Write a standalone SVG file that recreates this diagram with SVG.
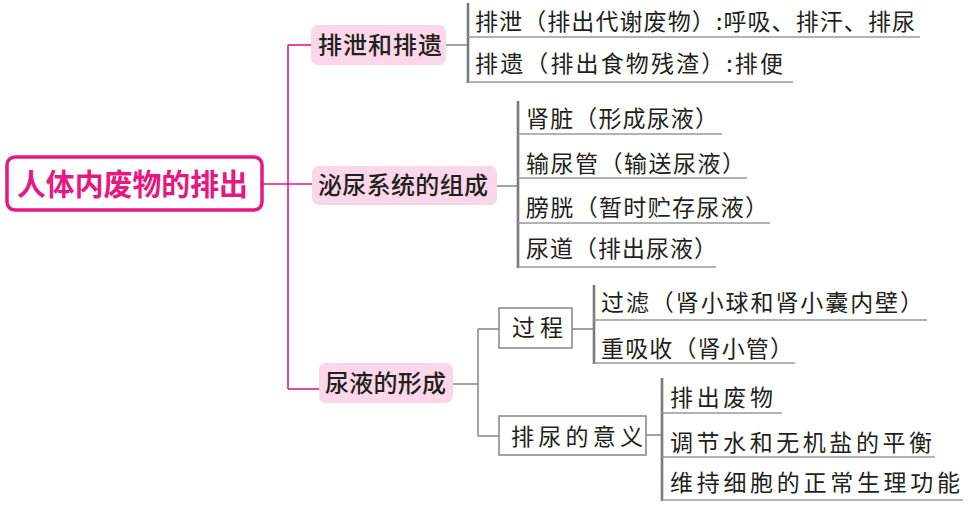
<svg xmlns="http://www.w3.org/2000/svg" width="971" height="510" viewBox="0 0 971 510">
<style>
  .pk { stroke: #e5197f; stroke-width: 1.6; fill: none; }
  .gl { stroke: #8c8c8c; stroke-width: 1.6; fill: none; }
  .br { stroke: #7a7a7a; stroke-width: 2.6; fill: none; }
  .ul { stroke: #9a9a9a; stroke-width: 1.6; fill: none; }
  .l1box { fill: #fad7e9; stroke: none; }
  .gbox { fill: #ffffff; stroke: #8c8c8c; stroke-width: 1.6; }
  .root { fill: #ffffff; stroke: #e5197f; stroke-width: 3.5; }
  .rt { font-family: "Noto Sans CJK SC", sans-serif; font-size: 30px; font-weight: 700; fill: #e5197f; }
  .l1 { font-family: "Noto Sans CJK SC", sans-serif; font-size: 24px; font-weight: 500; fill: #231f20; }
  .it { font-family: "Noto Sans CJK SC", sans-serif; font-size: 23px; font-weight: 400; fill: #231f20; }
</style>

<g id="connectors">
  <line class="pk" x1="263" y1="184" x2="312" y2="184"/>
  <line class="pk" x1="288" y1="45" x2="288" y2="389"/>
  <line class="pk" x1="288" y1="45" x2="311" y2="45"/>
  <line class="pk" x1="288" y1="389" x2="319" y2="389"/>
  <line class="gl" x1="446" y1="45" x2="468" y2="45"/>
  <line class="gl" x1="497" y1="186" x2="518" y2="186"/>
  <line class="gl" x1="453" y1="384" x2="478" y2="384"/>
  <line class="gl" x1="478" y1="329" x2="478" y2="436"/>
  <line class="gl" x1="478" y1="329" x2="499" y2="329"/>
  <line class="gl" x1="478" y1="436" x2="499" y2="436"/>
  <line class="gl" x1="572" y1="329" x2="594" y2="329"/>
  <line class="gl" x1="646" y1="435" x2="662" y2="435"/>
  <line class="br" x1="468" y1="3" x2="468" y2="83"/>
  <line class="br" x1="518" y1="101" x2="518" y2="268"/>
  <line class="br" x1="594" y1="285" x2="594" y2="364"/>
  <line class="br" x1="662" y1="378" x2="662" y2="501"/>
  <line class="ul" x1="468" y1="37" x2="920" y2="37"/>
  <line class="ul" x1="468" y1="82" x2="793" y2="82"/>
  <line class="ul" x1="518" y1="134" x2="722" y2="134"/>
  <line class="ul" x1="518" y1="178" x2="747" y2="178"/>
  <line class="ul" x1="518" y1="223" x2="770" y2="223"/>
  <line class="ul" x1="518" y1="267" x2="716" y2="267"/>
  <line class="ul" x1="594" y1="320" x2="927" y2="320"/>
  <line class="ul" x1="594" y1="363" x2="795" y2="363"/>
  <line class="ul" x1="662" y1="413" x2="782" y2="413"/>
  <line class="ul" x1="662" y1="457" x2="935" y2="457"/>
  <line class="ul" x1="662" y1="500" x2="963" y2="500"/>
</g>

<g id="root">
  <rect class="root" x="7" y="157" width="255" height="53" rx="8"/>
  <text class="rt" x="17" y="194.5" textLength="231" lengthAdjust="spacingAndGlyphs">人体内废物的排出</text>
</g>

<g id="n-paixie">
  <rect class="l1box" x="311" y="25" width="135" height="40" rx="7"/>
  <text class="l1" x="318" y="54" textLength="124" lengthAdjust="spacing">排泄和排遗</text>
</g>
<g id="n-miniao">
  <rect class="l1box" x="312" y="166" width="185" height="39" rx="7"/>
  <text class="l1" x="318" y="194" textLength="170" lengthAdjust="spacing">泌尿系统的组成</text>
</g>
<g id="n-niaoye">
  <rect class="l1box" x="319" y="363" width="134" height="40" rx="7"/>
  <text class="l1" x="325" y="392" textLength="121" lengthAdjust="spacing">尿液的形成</text>
</g>

<g id="n-guocheng">
  <rect class="gbox" x="499" y="308" width="73" height="40"/>
  <text class="it" x="512" y="336" textLength="51" lengthAdjust="spacing">过程</text>
</g>
<g id="n-yiyi">
  <rect class="gbox" x="499" y="416" width="147" height="39"/>
  <text class="it" x="511" y="444.5" textLength="132" lengthAdjust="spacing">排尿的意义</text>
</g>

<g id="n-i1"><text class="it" x="475" y="30" textLength="440" lengthAdjust="spacing">排泄（排出代谢废物）:呼吸、排汗、排尿</text></g>
<g id="n-i2"><text class="it" x="475" y="72" textLength="308" lengthAdjust="spacing">排遗（排出食物残渣）:排便</text></g>
<g id="n-i3"><text class="it" x="526" y="127" textLength="192" lengthAdjust="spacing">肾脏（形成尿液）</text></g>
<g id="n-i4"><text class="it" x="526" y="172" textLength="219" lengthAdjust="spacing">输尿管（输送尿液）</text></g>
<g id="n-i5"><text class="it" x="526" y="216" textLength="242" lengthAdjust="spacing">膀胱（暂时贮存尿液）</text></g>
<g id="n-i6"><text class="it" x="526" y="257" textLength="191" lengthAdjust="spacing">尿道（排出尿液）</text></g>
<g id="n-i7"><text class="it" x="601" y="311" textLength="322" lengthAdjust="spacing">过滤（肾小球和肾小囊内壁）</text></g>
<g id="n-i8"><text class="it" x="601" y="357" textLength="192" lengthAdjust="spacing">重吸收（肾小管）</text></g>
<g id="n-i9"><text class="it" x="670" y="406" textLength="103" lengthAdjust="spacing">排出废物</text></g>
<g id="n-i10"><text class="it" x="670" y="451" textLength="262" lengthAdjust="spacing">调节水和无机盐的平衡</text></g>
<g id="n-i11"><text class="it" x="670" y="491" textLength="290" lengthAdjust="spacing">维持细胞的正常生理功能</text></g>
</svg>
